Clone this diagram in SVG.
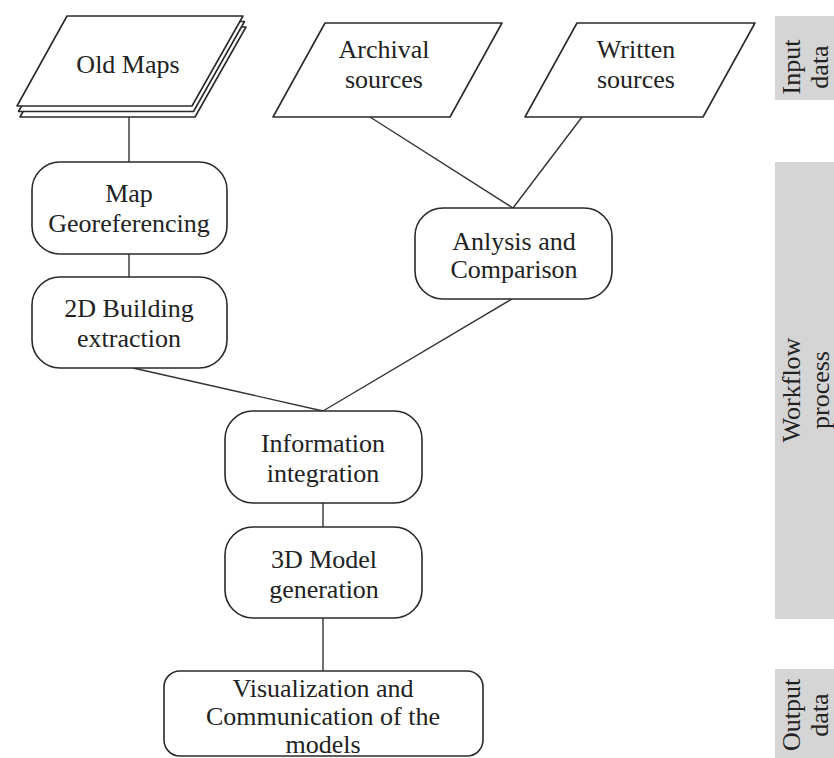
<svg xmlns="http://www.w3.org/2000/svg" width="834" height="758" viewBox="0 0 834 758">
<style>
.s{fill:#fff;stroke:#2a2a2a;stroke-width:1.6;stroke-linejoin:round}
.c line{stroke:#333;stroke-width:1.4}
text{font-family:"Liberation Serif","DejaVu Serif",serif;font-size:26px;fill:#222;text-anchor:middle}
.bar{fill:#d5d5d5}
</style>
<rect width="834" height="758" fill="#fff"/>
<g id="bars">
<rect class="bar" x="775" y="16" width="59" height="84"/>
<rect class="bar" x="775" y="162" width="59" height="457"/>
<rect class="bar" x="775" y="669" width="59" height="89"/>
<text transform="translate(800,67) rotate(-90)">Input</text>
<text transform="translate(828,67) rotate(-90)">data</text>
<text transform="translate(800,390) rotate(-90)">Workflow</text>
<text transform="translate(829,390) rotate(-90)">process</text>
<text transform="translate(800,715) rotate(-90)">Output</text>
<text transform="translate(828,715) rotate(-90)">data</text>
</g>
<g class="c" id="connectors">
<line x1="129" y1="117" x2="129" y2="162"/>
<line x1="129" y1="254" x2="129" y2="277"/>
<line x1="370" y1="117" x2="513" y2="208"/>
<line x1="582" y1="117" x2="513" y2="208"/>
<line x1="133" y1="368" x2="323" y2="411"/>
<line x1="512" y1="299" x2="323" y2="411"/>
<line x1="323" y1="503" x2="323" y2="527"/>
<line x1="323" y1="618" x2="323" y2="671"/>
</g>
<g id="old-maps">
<polygon class="s" transform="translate(3,11)" points="67,16 243,16 192,106 17,106"/>
<polygon class="s" transform="translate(1.5,5.5)" points="67,16 243,16 192,106 17,106"/>
<polygon class="s" points="67,16 243,16 192,106 17,106"/>
<text x="128" y="73">Old Maps</text>
</g>
<g id="archival">
<polygon class="s" points="325,23 502,23 450,117 273,117"/>
<text x="384" y="58">Archival</text>
<text x="384" y="88">sources</text>
</g>
<g id="written">
<polygon class="s" points="577,23 755,23 703,117 525,117"/>
<text x="636" y="58">Written</text>
<text x="636" y="88">sources</text>
</g>
<g id="map-geo">
<rect class="s" x="32" y="162" width="195" height="92" rx="28"/>
<text x="129" y="202">Map</text>
<text x="129" y="232">Georeferencing</text>
</g>
<g id="building">
<rect class="s" x="32" y="277" width="195" height="91" rx="28"/>
<text x="129" y="317">2D Building</text>
<text x="129" y="347">extraction</text>
</g>
<g id="analysis">
<rect class="s" x="415" y="208" width="197" height="91" rx="28"/>
<text x="514" y="250">Anlysis and</text>
<text x="514" y="278">Comparison</text>
</g>
<g id="integration">
<rect class="s" x="225" y="411" width="197" height="92" rx="28"/>
<text x="323" y="452">Information</text>
<text x="323" y="482">integration</text>
</g>
<g id="model">
<rect class="s" x="225" y="527" width="197" height="91" rx="28"/>
<text x="324" y="568">3D Model</text>
<text x="324" y="598">generation</text>
</g>
<g id="visualization">
<rect class="s" x="164" y="671" width="319" height="85" rx="16"/>
<text x="323" y="697">Visualization and</text>
<text x="323" y="725">Communication of the</text>
<text x="323" y="753">models</text>
</g>
</svg>
